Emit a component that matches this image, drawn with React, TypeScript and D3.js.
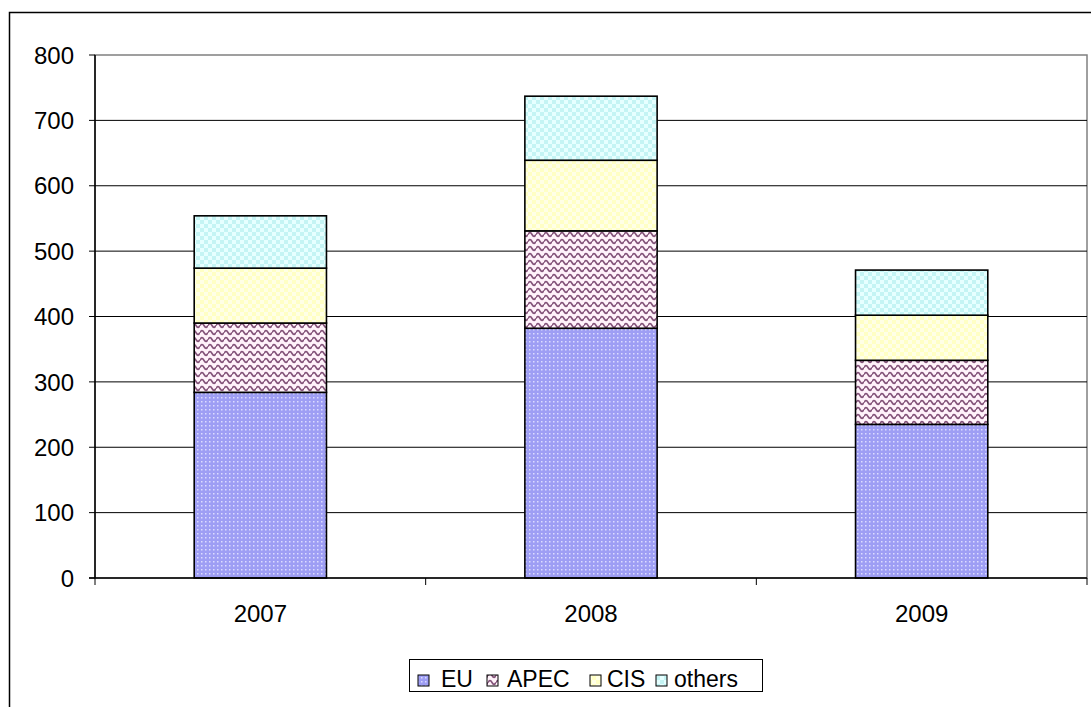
import React from 'react';
import * as d3 from 'd3';

const years = ['2007', '2008', '2009'];
const seriesNames = ['EU', 'APEC', 'CIS', 'others'];
const euValues = [284, 382, 235];
const apecValues = [106, 149, 98];
const cisValues = [84, 108, 69];
const othersValues = [80, 98, 69];
const yTicks = [0, 100, 200, 300, 400, 500, 600, 700, 800];

const W = 1091;
const H = 707;
const plot = { left: 95, top: 55, right: 1087, bottom: 578 };
const patternIds = ['pEU', 'pAPEC', 'pCIS', 'pOthers'];
const font = 'Liberation Sans, Arial, sans-serif';

export default function App() {
  const rows = years.map((y, i) => ({
    year: y,
    EU: euValues[i],
    APEC: apecValues[i],
    CIS: cisValues[i],
    others: othersValues[i],
  }));
  const stacked = d3.stack<any>().keys(seriesNames)(rows);

  const x = d3.scaleBand().domain(years).range([plot.left, plot.right]).paddingInner(0.6).paddingOuter(0.3);
  const y = d3.scaleLinear().domain([0, 800]).range([plot.bottom, plot.top]);
  const step = x.step();
  const boundaries = d3.range(years.length + 1).map(i => plot.left + i * step);

  const legendItems = [
    { name: 'EU', sx: 418, tx: 441 },
    { name: 'APEC', sx: 487, tx: 507 },
    { name: 'CIS', sx: 590, tx: 607 },
    { name: 'others', sx: 656, tx: 674 },
  ];

  return (
    <svg width={W} height={H} style={{ position: 'absolute', left: 0, top: 0, background: '#fff' }}>
      <defs>
        <pattern id="pEU" patternUnits="userSpaceOnUse" width={4} height={4}>
          <rect width={4} height={4} fill="#9e9ef4" />
          <rect x={1} y={1} width={1.5} height={1.5} fill="#dcdcff" />
        </pattern>
        <pattern id="pAPEC" patternUnits="userSpaceOnUse" width={8} height={7}>
          <rect width={8} height={7} fill="#fff2fa" />
          <path d="M0,3.5 Q2,-0.2 4,3.5 T8,3.5" fill="none" stroke="#84547a" strokeWidth={1.6} />
        </pattern>
        <pattern id="pCIS" patternUnits="userSpaceOnUse" width={8} height={8}>
          <rect width={8} height={8} fill="#ffffc4" />
          <rect x={0} y={0} width={4} height={4} fill="#ffffe6" />
          <rect x={4} y={4} width={4} height={4} fill="#ffffe6" />
        </pattern>
        <pattern id="pOthers" patternUnits="userSpaceOnUse" width={8} height={8}>
          <rect width={8} height={8} fill="#c4f4f4" />
          <rect x={0} y={0} width={4} height={4} fill="#e6ffff" />
          <rect x={4} y={4} width={4} height={4} fill="#e6ffff" />
        </pattern>
      </defs>

      {/* outer chart frame */}
      <rect x={9.5} y={12.5} width={W + 20} height={H + 20} fill="none" stroke="#000" strokeWidth={1.5} />

      {/* plot area border */}
      <rect x={plot.left} y={plot.top} width={plot.right - plot.left} height={plot.bottom - plot.top}
        fill="none" stroke="#808080" strokeWidth={1.5} />

      {/* gridlines */}
      {yTicks.filter(t => t > 0 && t < 800).map(t => (
        <line key={t} x1={plot.left} x2={plot.right} y1={y(t)} y2={y(t)} stroke="#000" strokeWidth={1} />
      ))}

      {/* bars */}
      {stacked.map((s, si) => s.map((d, i) => (
        <rect key={si + '-' + i}
          x={x(years[i])!} y={y(d[1])} width={x.bandwidth()} height={y(d[0]) - y(d[1])}
          fill={`url(#${patternIds[si]})`} stroke="#000" strokeWidth={1.6} />
      )))}

      {/* y axis */}
      <line x1={plot.left} x2={plot.left} y1={plot.top} y2={plot.bottom} stroke="#000" strokeWidth={1.5} />
      {yTicks.map(t => (
        <g key={t}>
          <line x1={plot.left - 6} x2={plot.left} y1={y(t)} y2={y(t)} stroke="#000" strokeWidth={1} />
          <text x={74} y={y(t)} dy="0.36em" textAnchor="end" fontFamily={font} fontSize={24}>{t}</text>
        </g>
      ))}

      {/* x axis */}
      <line x1={plot.left - 6} x2={plot.right} y1={plot.bottom} y2={plot.bottom} stroke="#000" strokeWidth={1.5} />
      {boundaries.map((b, i) => (
        <line key={i} x1={b} x2={b} y1={plot.bottom} y2={plot.bottom + 7} stroke="#000" strokeWidth={1} />
      ))}
      {years.map(yr => (
        <text key={yr} x={x(yr)! + x.bandwidth() / 2} y={622} textAnchor="middle" fontFamily={font} fontSize={24}>{yr}</text>
      ))}

      {/* legend */}
      <rect x={409.5} y={659.5} width={353} height={32} fill="#fff" stroke="#000" strokeWidth={1} />
      {legendItems.map((it, i) => (
        <g key={it.name}>
          <rect x={it.sx} y={675} width={11} height={11} fill={`url(#${patternIds[i]})`} stroke="#000" strokeWidth={1} />
          <text x={it.tx} y={687} fontFamily={font} fontSize={23}>{it.name}</text>
        </g>
      ))}
    </svg>
  );
}
